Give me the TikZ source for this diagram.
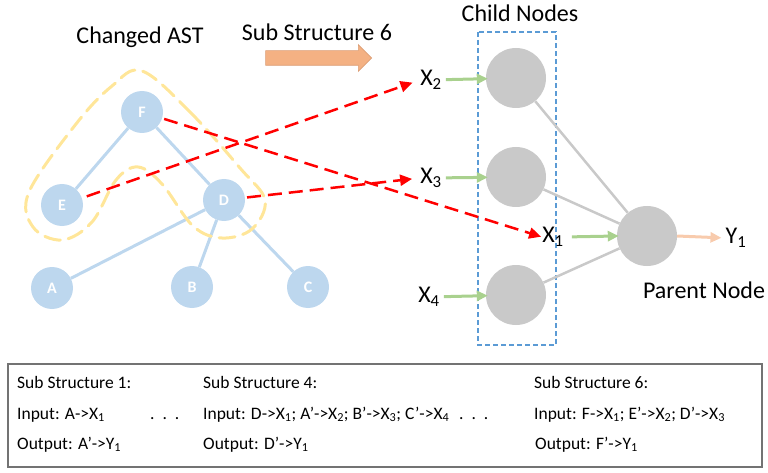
\documentclass[tikz,border=0pt]{standalone}
\usepackage{fontspec}
\setmainfont{Carlito}
\usetikzlibrary{positioning,arrows.meta,shapes.arrows}
\definecolor{astblue}{HTML}{BDD7EE}
\definecolor{hiyellow}{HTML}{FFE699}
\definecolor{cellgray}{HTML}{C9C9C9}
\definecolor{ingreen}{HTML}{A9D18E}
\definecolor{outorange}{HTML}{F8CBAD}
\definecolor{bigorange}{HTML}{F4B183}
\definecolor{boxblue}{HTML}{5B9BD5}
\tikzset{
  astnode/.style={circle,fill=astblue,minimum size=42pt,inner sep=0pt,text=white,font=\fontsize{16}{18}\selectfont\bfseries},
  cell/.style={circle,fill=cellgray,minimum size=60pt,inner sep=0pt},
  biglabel/.style={font=\fontsize{24}{28}\selectfont,inner sep=0pt},
  boxtext/.style={font=\fontsize{17.5}{20}\selectfont,inner sep=0pt,anchor=base west},
  astedge/.style={astblue,line width=3pt},
  celledge/.style={cellgray,line width=2.5pt},
  mapping/.style={red,line width=2.5pt,dash pattern=on 14pt off 7pt,-{Triangle[length=12pt,width=11pt]}},
  feed/.style={ingreen,line width=3pt,-{Triangle[length=11pt,width=10pt]}},
  emit/.style={outorange,line width=3pt,-{Triangle[length=11pt,width=10pt]}}
}

\begin{document}
\begin{tikzpicture}[x=1pt,y=-1pt]
    \useasboundingbox (0,0) rectangle (768,473);
    \node at (140, 37) [biglabel] (astlabel) {Changed AST};
    \node at (317, 32) [biglabel] (sublabel) {Sub Structure 6};
    \node at (315, 58) [single arrow, fill=bigorange, draw=bigorange!90!black, line width=0.6pt,
        minimum height=106pt, inner xsep=0pt, inner ysep=7pt, single arrow head extend=6pt] (shift) {};

    \node at (142, 112) [astnode] (F) {F};
    \node at (62, 205) [astnode] (E) {E};
    \node at (224, 200) [astnode] (D) {D};
    \node at (52, 288) [astnode] (A) {A};
    \node at (192, 287) [astnode] (B) {B};
    \node at (308, 287) [astnode] (C) {C};
    \path[astedge]
    (F) edge (E)
    (F) edge (D)
    (D) edge (A)
    (D) edge (B)
    (D) edge (C);

    \draw[hiyellow, line width=3pt, dash pattern=on 16pt off 8pt, line cap=round]
        plot[smooth cycle, tension=0.6] coordinates {(142,71) (190,112) (240,168) (265,200) (252,229) (222,238)
        (193,226) (162,184) (138,167) (116,180) (92,222) (62,240) (33,227) (29,192) (76,124) (112,86)};

    \node at (520, 13) [biglabel] (childlabel) {Child Nodes};
    \draw[boxblue, line width=1.2pt, dash pattern=on 5pt off 3pt] (478,32) rectangle (556,345);
    \node at (516, 78) [cell] (c2) {};
    \node at (516, 177) [cell] (c3) {};
    \node at (516, 295) [cell] (c4) {};
    \node at (647, 236) [cell] (p) {};
    \node at (704, 290) [biglabel] (parentlabel) {Parent Node};

    \node at (431, 80) [biglabel] (x2) {X\textsubscript{2}};
    \node at (431, 178) [biglabel] (x3) {X\textsubscript{3}};
    \node at (429, 297) [biglabel] (x4) {X\textsubscript{4}};
    \node at (553, 237) [biglabel] (x1) {X\textsubscript{1}};
    \node at (736, 238) [biglabel] (y1) {Y\textsubscript{1}};

    \path[celledge]
    (c2) edge (p)
    (c3) edge (p)
    (c4) edge (p);

    \draw[feed, shorten <=4pt, shorten >=-2pt] (x2) -- (c2);
    \draw[feed, shorten <=4pt, shorten >=-2pt] (x3) -- (c3);
    \draw[feed, shorten <=4pt, shorten >=-2pt] (x4) -- (c4);
    \draw[feed, shorten <=8pt, shorten >=-2pt] (x1.east) -- (p.west);
    \draw[emit, shorten >=4pt] (p.east) -- (y1.west);

    \draw[mapping, shorten <=5pt, shorten >=8pt] (E) -- (x2.west);
    \draw[mapping, shorten <=2pt, shorten >=8pt] (D) -- (x3.west);
    \draw[mapping, shorten <=2pt, shorten >=1pt] (F) -- (x1.west);

    \draw[black!55, line width=1.5pt] (8,364) rectangle (762,467);
    \node at (17, 388) [boxtext] (s1) {Sub Structure 1:};
    \node at (17, 419) [boxtext] (s1in) {Input: A->X\textsubscript{1}};
    \node at (17, 449) [boxtext] (s1out) {Output: A’->Y\textsubscript{1}};
    \node at (150, 419) [boxtext] (dots1) {.\ \ .\ \ .};
    \node at (203, 388) [boxtext] (s4) {Sub Structure 4:};
    \node at (203, 419) [boxtext] (s4in) {Input: D->X\textsubscript{1}; A’->X\textsubscript{2}; B’->X\textsubscript{3}; C’->X\textsubscript{4}};
    \node at (203, 449) [boxtext] (s4out) {Output: D’->Y\textsubscript{1}};
    \node at (459, 419) [boxtext] (dots2) {.\ \ .\ \ .};
    \node at (534, 388) [boxtext] (s6) {Sub Structure 6:};
    \node at (534, 419) [boxtext] (s6in) {Input: F->X\textsubscript{1}; E’->X\textsubscript{2}; D’->X\textsubscript{3}};
    \node at (535, 449) [boxtext] (s6out) {Output: F’->Y\textsubscript{1}};
\end{tikzpicture}
\end{document}
